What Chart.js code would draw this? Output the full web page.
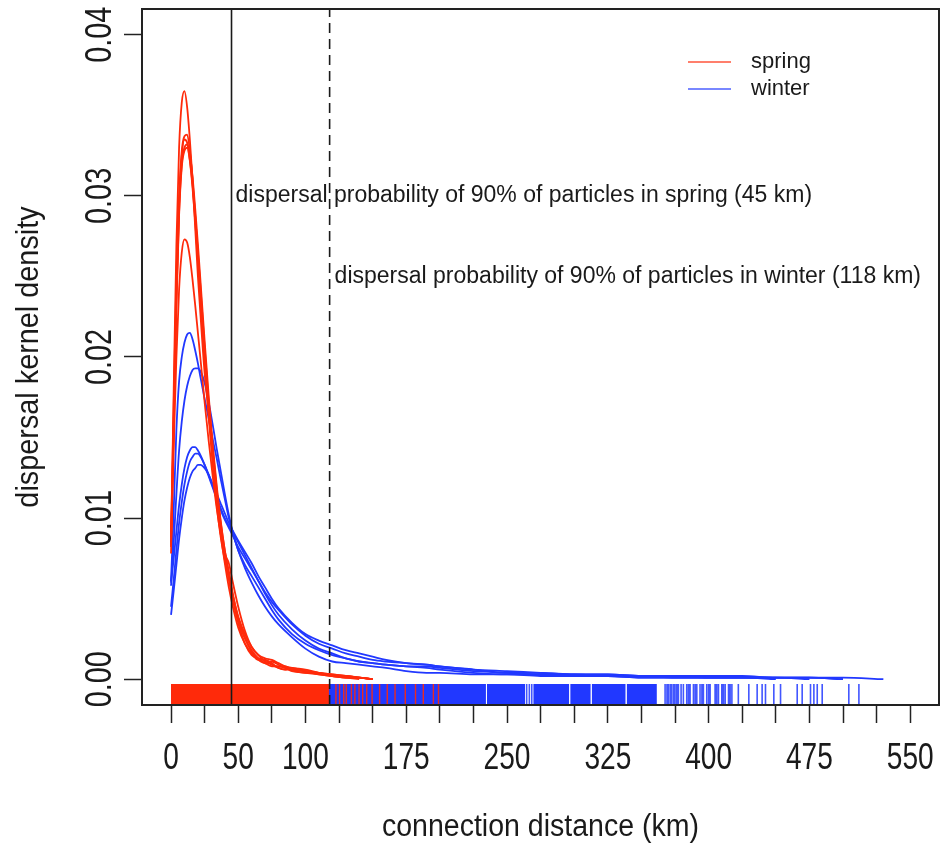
<!DOCTYPE html>
<html>
<head>
<meta charset="utf-8">
<title>Dispersal kernel density</title>
<script src="https://cdn.jsdelivr.net/npm/chart.js@4.4.1/dist/chart.umd.min.js"></script>
<style>
  html, body { margin: 0; padding: 0; background: #fff; }
  #wrap { width: 942px; height: 849px; }
</style>
</head>
<body>
<div id="wrap"><canvas id="kernel" width="942" height="849"></canvas></div>
<script>
// distance grids (km) the density curves are sampled on
const springKm = [0,2,4,6,8,10,12,14,16,18, 20,22,25,28,31,34,37,40,43,46,
  50,55,60,65,70,75,80,85,90,100, 110,120,130,140,150];
const winterKm = [0,2,4,6,8,10,12,14,16,18, 20,22,25,28,31,34,37,40,43,46,
  50,55,60,65,70,75,80,90,100,110, 120,130,140,150,160,175,190,200,225,250,
  275,300,325,350,375,400,425,450,475,500, 530];

// spring kernels (one per release run)
const spring1 = [0.0083,0.0180,0.0270,0.0330,0.0358,0.0365,0.0355,0.0335,0.0310,0.0280,
  0.0250,0.0225,0.0190,0.0165,0.0138,0.0112,0.0090,0.0072,0.0057,0.0045,
  0.0032,0.0022,0.0016,0.0012,0.0012,0.0010,0.0007,0.0006,0.0007,0.0005,
  0.0004,0.0002,0.0002,0.0001,0.0000];
const spring2 = [0.0090,0.0170,0.0250,0.0300,0.0328,0.0337,0.0338,0.0328,0.0310,0.0288,
  0.0263,0.0238,0.0200,0.0168,0.0140,0.0116,0.0095,0.0077,0.0062,0.0049,
  0.0036,0.0025,0.0017,0.0012,0.0010,0.0011,0.0009,0.0007,0.0006,0.0005,
  0.0003,0.0002,0.0001,0.0001,0.0000];
const spring3 = [0.0078,0.0160,0.0240,0.0295,0.0325,0.0335,0.0333,0.0322,0.0305,0.0284,
  0.0260,0.0235,0.0198,0.0163,0.0133,0.0108,0.0088,0.0074,0.0063,0.0050,
  0.0035,0.0022,0.0015,0.0013,0.0012,0.0009,0.0008,0.0008,0.0006,0.0004,
  0.0004,0.0002,0.0001,0.0000,null];
const spring4 = [0.0082,0.0155,0.0232,0.0288,0.0318,0.0328,0.0330,0.0322,0.0307,0.0287,
  0.0265,0.0242,0.0206,0.0172,0.0143,0.0118,0.0097,0.0080,0.0067,0.0053,
  0.0038,0.0026,0.0018,0.0013,0.0010,0.0008,0.0008,0.0007,0.0005,0.0004,
  0.0003,0.0002,0.0001,0.0001,0.0000];
const spring5 = [0.0085,0.0145,0.0200,0.0242,0.0265,0.0273,0.0271,0.0262,0.0248,0.0232,
  0.0215,0.0198,0.0172,0.0148,0.0126,0.0106,0.0090,0.0078,0.0072,0.0060,
  0.0045,0.0030,0.0020,0.0015,0.0013,0.0012,0.0010,0.0008,0.0007,0.0006,
  0.0004,0.0003,0.0002,0.0001,0.0000];
const spring6 = [0.0088,0.0158,0.0235,0.0290,0.0320,0.0330,0.0332,0.0326,0.0312,0.0292,
  0.0270,0.0246,0.0210,0.0176,0.0146,0.0120,0.0098,0.0080,0.0065,0.0052,
  0.0039,0.0028,0.0020,0.0015,0.0011,0.0009,0.0007,0.0006,0.0006,0.0005,
  0.0004,0.0003,0.0002,0.0001,0.0000];

// winter kernels
const winter1 = [0.0061,0.0105,0.0155,0.0185,0.0200,0.0209,0.0214,0.0215,0.0211,0.0204,
  0.0196,0.0187,0.0174,0.0162,0.0149,0.0137,0.0124,0.0112,0.0100,0.0091,
  0.0080,0.0069,0.0060,0.0052,0.0045,0.0039,0.0034,0.0026,0.0019,0.0014,
  0.0011,0.0010,0.0009,0.0008,0.0007,0.0005,0.0004,0.0004,0.0003,0.0003,
  0.0002,0.0002,0.0002,0.0001,0.0001,0.0001,0.0001,0.0001,0.0001,0.0000,
  null];
const winter2 = [0.0058,0.0085,0.0115,0.0142,0.0160,0.0173,0.0182,0.0188,0.0192,0.0193,
  0.0193,0.0191,0.0184,0.0172,0.0158,0.0143,0.0129,0.0115,0.0102,0.0091,
  0.0080,0.0071,0.0064,0.0057,0.0050,0.0043,0.0037,0.0028,0.0022,0.0018,
  0.0015,0.0013,0.0011,0.0010,0.0009,0.0008,0.0007,0.0006,0.0004,0.0003,
  0.0003,0.0002,0.0002,0.0001,0.0001,0.0001,0.0001,0.0000,null,null,
  null];
const winter3 = [0.0060,0.0075,0.0092,0.0108,0.0121,0.0131,0.0138,0.0142,0.0144,0.0144,
  0.0142,0.0139,0.0133,0.0126,0.0119,0.0112,0.0105,0.0099,0.0094,0.0089,
  0.0082,0.0075,0.0068,0.0061,0.0054,0.0048,0.0043,0.0034,0.0027,0.0022,
  0.0019,0.0016,0.0014,0.0012,0.0011,0.0010,0.0009,0.0008,0.0006,0.0005,
  0.0004,0.0003,0.0003,0.0002,0.0002,0.0001,0.0001,0.0001,0.0001,0.0000,
  null];
const winter4 = [0.0045,0.0062,0.0080,0.0097,0.0110,0.0121,0.0129,0.0135,0.0138,0.0140,
  0.0140,0.0138,0.0133,0.0127,0.0120,0.0113,0.0106,0.0100,0.0095,0.0091,
  0.0085,0.0077,0.0069,0.0061,0.0053,0.0046,0.0040,0.0031,0.0024,0.0019,
  0.0016,0.0013,0.0011,0.0010,0.0009,0.0008,0.0008,0.0007,0.0005,0.0004,
  0.0003,0.0003,0.0002,0.0002,0.0001,0.0001,0.0001,0.0001,0.0000,null,
  null];
const winter5 = [0.0040,0.0055,0.0071,0.0087,0.0100,0.0111,0.0119,0.0125,0.0129,0.0131,
  0.0133,0.0133,0.0131,0.0127,0.0121,0.0115,0.0109,0.0103,0.0097,0.0092,
  0.0086,0.0079,0.0072,0.0064,0.0057,0.0050,0.0044,0.0035,0.0028,0.0024,
  0.0021,0.0018,0.0016,0.0014,0.0012,0.0010,0.0009,0.0008,0.0006,0.0004,
  0.0004,0.0003,0.0003,0.0002,0.0002,0.0002,0.0002,0.0001,0.0001,0.0001,
  0.0000];

// rug of observed connection distances (km): dense stretches as spans, sparse ones as ticks
const springRugSpans = [[0, 117.5]];
const springRugTicks = [122.7,125.4,128.5,130.4,134.2,136.8,139.9,142.6,145.6,149.6,
  155.2,160.9,166.7,174.3,181.9,187.7,195.2,199];
const winterRugSpans = [[0, 234.3],[235, 263.5],[269.5, 296.3],[297, 312.3],
  [313, 338.3],[339, 361.5]];
const winterRugTicks = [264.6,266.6,268.4,367.6,369,370.1,371.5,372.6,374,375,376.3,377.5,
  379.5,381.2,383.7,385,386.2,388.7,390,391.2,393.6,395,396.1,398.6,400,401.1,
  404.8,406,407.3,409.8,411,412.3,414.8,416,417.3,
  422.1,429.9,436.1,439.8,442.3,448.5,453.5,465.9,469.6,475.8,478.3,480.8,484.5,
  504.3,511.8];

// 90% dispersal thresholds (km)
const springCutoff = 45;
const winterCutoff = 118;

const xTickValues = [0,25,50,75,100,125,150,175,200,225,250,275,300,325,350,375,400,425,450,475,500,525,550];
const xTickLabels = [0,50,100,175,250,325,400,475,550];
const yTickValues = [0, 0.01, 0.02, 0.03, 0.04];

const X_MIN = -21.6, X_MAX = 571.4;
const Y_MIN = -0.0016, Y_MAX = 0.0416;
const RUG_TOP = -0.0003;

const RED = '#ff2a0a';
const BLUE = '#2138ff';
const INK = '#1a1a1a';
const FONT = '"Liberation Sans", Arial, Helvetica, sans-serif';

Chart.defaults.font.family = FONT;
Chart.defaults.color = INK;

const toPoints = (km, vals) => km.map((k, i) => ({ x: k, y: vals[i] }));

const curve = (km, vals, color, order) => ({
  data: toPoints(km, vals),
  borderColor: color,
  borderWidth: 1.8,
  pointRadius: 0,
  cubicInterpolationMode: 'monotone',
  fill: false,
  order: order
});

const rugSpan = (span, color, order) => ({
  data: [{ x: span[0], y: RUG_TOP }, { x: span[1], y: RUG_TOP }],
  borderColor: 'transparent',
  borderWidth: 0,
  backgroundColor: color,
  fill: { value: Y_MIN },
  pointRadius: 0,
  order: order
});

const rugTicks = (ticks, color, width, order) => ({
  data: ticks.flatMap(k => [{ x: k, y: Y_MIN }, { x: k, y: RUG_TOP }, { x: k, y: null }]),
  borderColor: color,
  borderWidth: width,
  pointRadius: 0,
  spanGaps: false,
  fill: false,
  order: order
});

const cutoffLine = (km, dash) => ({
  data: [{ x: km, y: Y_MIN }, { x: km, y: Y_MAX }],
  borderColor: INK,
  borderWidth: 1.6,
  borderDash: dash,
  pointRadius: 0,
  fill: false,
  order: 0
});

const datasets = [
  cutoffLine(springCutoff, []),
  cutoffLine(winterCutoff, [10, 6]),
  ...[spring1, spring2, spring3, spring4, spring5, spring6].map(v => curve(springKm, v, RED, 1)),
  ...[winter1, winter2, winter3, winter4, winter5].map(v => curve(winterKm, v, BLUE, 2)),
  ...springRugSpans.map(s => rugSpan(s, RED, 3)),
  rugTicks(springRugTicks, 'rgba(255,42,10,0.9)', 1.4, 3),
  ...winterRugSpans.map(s => rugSpan(s, BLUE, 4)),
  rugTicks(winterRugTicks, 'rgba(33,56,255,0.85)', 1.6, 4)
];

// text squeezed horizontally, like the narrow face of the original figure
const narrowText = (ctx, text, x, y, size, squeeze, angle) => {
  ctx.save();
  ctx.translate(x, y);
  if (angle) ctx.rotate(angle);
  ctx.scale(squeeze, 1);
  ctx.font = size + 'px ' + FONT;
  ctx.fillText(text, 0, 0);
  ctx.restore();
};

// box, tick labels, axis titles, threshold notes and legend
const decorations = {
  id: 'decorations',
  afterDraw(chart) {
    const { ctx, chartArea: a, scales: { x, y } } = chart;
    ctx.save();
    ctx.strokeStyle = '#222';
    ctx.lineWidth = 2;
    ctx.strokeRect(a.left, a.top, a.right - a.left, a.bottom - a.top);

    ctx.fillStyle = INK;
    ctx.textAlign = 'center';
    ctx.textBaseline = 'alphabetic';

    xTickLabels.forEach(v => narrowText(ctx, String(v), x.getPixelForValue(v), 769, 37, 0.76, 0));
    yTickValues.forEach(v => narrowText(ctx, v.toFixed(2), 111, y.getPixelForValue(v), 37, 0.78, -Math.PI / 2));

    narrowText(ctx, 'dispersal kernel density', 38, (a.top + a.bottom) / 2, 31, 0.93, -Math.PI / 2);
    narrowText(ctx, 'connection distance (km)', (a.left + a.right) / 2, 836, 31, 0.92, 0);

    ctx.textBaseline = 'middle';
    ctx.font = '23px ' + FONT;
    ctx.textAlign = 'left';
    ctx.fillText('dispersal probability of 90% of particles in spring (45 km)',
      x.getPixelForValue(springCutoff) + 4, y.getPixelForValue(0.03));
    ctx.fillText('dispersal probability of 90% of particles in winter (118 km)',
      x.getPixelForValue(winterCutoff) + 5, y.getPixelForValue(0.025));

    // legend
    ctx.font = '22px ' + FONT;
    [['spring', RED, 62], ['winter', BLUE, 89]].forEach(([label, color, ly]) => {
      ctx.strokeStyle = color;
      ctx.globalAlpha = 0.8;
      ctx.lineWidth = 1.6;
      ctx.beginPath();
      ctx.moveTo(688, ly);
      ctx.lineTo(731, ly);
      ctx.stroke();
      ctx.globalAlpha = 1;
      ctx.fillText(label, 751, ly);
    });
    ctx.restore();
  }
};

new Chart(document.getElementById('kernel'), {
  type: 'line',
  data: { datasets: datasets },
  options: {
    responsive: false,
    animation: false,
    events: [],
    layout: { padding: { top: 9, right: 3, left: 0, bottom: 0 } },
    plugins: { legend: { display: false }, tooltip: { enabled: false } },
    scales: {
      x: {
        type: 'linear',
        min: X_MIN,
        max: X_MAX,
        afterBuildTicks: s => { s.ticks = xTickValues.map(v => ({ value: v })); },
        afterFit: s => { s.height = 144; },
        border: { display: false },
        grid: { drawOnChartArea: false, drawTicks: true, tickLength: 18, tickColor: '#222', tickWidth: 1.5 },
        ticks: { display: false }
      },
      y: {
        type: 'linear',
        min: Y_MIN,
        max: Y_MAX,
        afterBuildTicks: s => { s.ticks = yTickValues.map(v => ({ value: v })); },
        afterFit: s => { s.width = 142; },
        border: { display: false },
        grid: { drawOnChartArea: false, drawTicks: true, tickLength: 18, tickColor: '#222', tickWidth: 1.5 },
        ticks: { display: false }
      }
    }
  },
  plugins: [decorations]
});
</script>
</body>
</html>
